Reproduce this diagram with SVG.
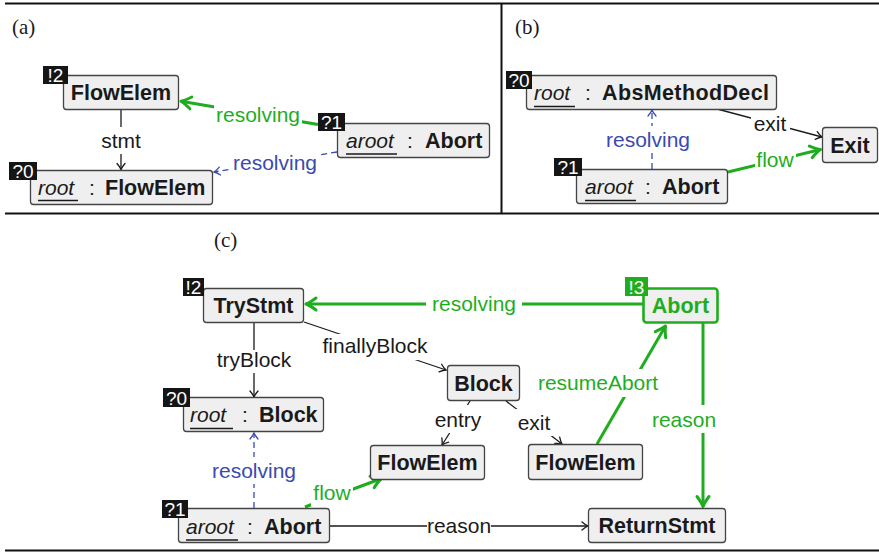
<svg xmlns="http://www.w3.org/2000/svg" width="879" height="553" viewBox="0 0 879 553">
<style>
text { font-family: "Liberation Sans", Arial, sans-serif; font-size: 21px; fill: #1a1a1a; }
.cap { font-family: "Liberation Serif", "Times New Roman", serif; font-size: 21px; }
.b { font-weight: bold; font-size: 21.5px; }
.it { font-style: italic; }
.m { text-anchor: middle; }
.box { fill: #efefef; stroke: #444; stroke-width: 1.3; }
.gbox { fill: #efefef; stroke: #1fad1f; stroke-width: 2.6; }
.badge { fill: #151515; }
.gbadge { fill: #1fad1f; }
.bt { fill: #fff; font-size: 19px; text-anchor: middle; }
.ul { stroke: #1a1a1a; stroke-width: 1.6; }
.frame { stroke: #111; stroke-width: 2; }
.k { stroke: #1a1a1a; stroke-width: 1.3; fill: none; }
.g { stroke: #1fad1f; stroke-width: 3; fill: none; }
.bl { stroke: #3a4ab0; stroke-width: 1.3; fill: none; stroke-dasharray: 6 4; }
.lb { fill: #fff; }
.gt { fill: #1fad1f; }
.btx { fill: #3a4ab0; }
</style>
<defs>
<marker id="ka" markerUnits="userSpaceOnUse" markerWidth="16" markerHeight="16" viewBox="-10 -8 12 16" refX="0" refY="0" orient="auto" overflow="visible">
<path d="M-6,-4 Q-2.5,-1 0,0 Q-2.5,1 -6,4" fill="none" stroke="#1a1a1a" stroke-width="1.3" stroke-linecap="round"/>
</marker>
<marker id="ba" markerUnits="userSpaceOnUse" markerWidth="16" markerHeight="16" viewBox="-10 -8 12 16" refX="0" refY="0" orient="auto" overflow="visible">
<path d="M-6,-4 Q-2.5,-1 0,0 Q-2.5,1 -6,4" fill="none" stroke="#3a4ab0" stroke-width="1.3" stroke-linecap="round"/>
</marker>
<marker id="ga" markerUnits="userSpaceOnUse" markerWidth="20" markerHeight="20" viewBox="-14 -10 16 20" refX="0" refY="0" orient="auto" overflow="visible">
<path d="M-10,-6 Q-4,-1.5 0,0 Q-4,1.5 -10,6" fill="none" stroke="#1fad1f" stroke-width="3" stroke-linecap="round" stroke-linejoin="round"/>
</marker>
</defs>
<rect x="0" y="0" width="879" height="553" fill="#fff"/>

<g id="frame">
<line class="frame" x1="5" y1="3.5" x2="879" y2="3.5"/>
<line class="frame" x1="501.5" y1="3.5" x2="501.5" y2="213.5"/>
<line class="frame" x1="5" y1="213.5" x2="879" y2="213.5"/>
<line class="frame" x1="5" y1="550.5" x2="879" y2="550.5"/>
<text class="cap" x="12" y="34">(a)</text>
<text class="cap" x="515" y="34">(b)</text>
<text class="cap" x="214" y="247">(c)</text>
</g>

<g id="connectors">
<!-- (a) -->
<line class="k" x1="121" y1="109.5" x2="121" y2="169.5" marker-end="url(#ka)"/>
<rect class="lb" x="99" y="127" width="44" height="27"/>
<text class="m" x="121" y="148">stmt</text>
<line class="g" x1="318" y1="124.5" x2="181" y2="101.2" marker-end="url(#ga)"/>
<rect class="lb" x="214" y="102" width="88" height="27"/>
<text class="m gt" x="258" y="122">resolving</text>
<line class="bl" x1="337" y1="152" x2="214" y2="172" marker-end="url(#ba)"/>
<rect class="lb" x="231" y="150" width="90" height="27"/>
<text class="m btx" x="275" y="170">resolving</text>
<!-- (b) -->
<line class="k" x1="719" y1="109.5" x2="822" y2="137" marker-end="url(#ka)"/>
<rect class="lb" x="751" y="111" width="39" height="26"/>
<text class="m" x="770" y="131">exit</text>
<line class="g" x1="728" y1="172" x2="820.5" y2="149.5" marker-end="url(#ga)"/>
<rect class="lb" x="755" y="147" width="41" height="26"/>
<text class="m gt" x="775" y="167">flow</text>
<line class="bl" x1="652" y1="169" x2="652" y2="110" marker-end="url(#ba)"/>
<rect class="lb" x="604" y="126" width="88" height="26"/>
<text class="m btx" x="648" y="147">resolving</text>
<!-- (c) -->
<line class="g" x1="643" y1="304" x2="306" y2="304" marker-end="url(#ga)"/>
<rect class="lb" x="426" y="290" width="96" height="27"/>
<text class="m gt" x="474" y="311">resolving</text>
<line class="k" x1="254" y1="322.5" x2="254" y2="397" marker-end="url(#ka)"/>
<rect class="lb" x="210" y="350" width="88" height="23"/>
<text class="m" x="254" y="367">tryBlock</text>
<line class="k" x1="304" y1="322" x2="446" y2="370" marker-end="url(#ka)"/>
<rect class="lb" x="316" y="334" width="118" height="26"/>
<text class="m" x="375" y="353">finallyBlock</text>
<line class="k" x1="470" y1="401" x2="442" y2="445" marker-end="url(#ka)"/>
<rect class="lb" x="433" y="405" width="52" height="28"/>
<text class="m" x="458" y="427">entry</text>
<line class="k" x1="506" y1="401" x2="562" y2="444" marker-end="url(#ka)"/>
<rect class="lb" x="514" y="409" width="40" height="27"/>
<text class="m" x="534" y="430">exit</text>
<line class="g" x1="597" y1="444" x2="665.5" y2="326" marker-end="url(#ga)"/>
<rect class="lb" x="535" y="369" width="126" height="28"/>
<text class="m gt" x="598" y="390">resumeAbort</text>
<line class="g" x1="703" y1="323" x2="703" y2="506.5" marker-end="url(#ga)"/>
<rect class="lb" x="652" y="405" width="64" height="28"/>
<text class="m gt" x="684" y="427">reason</text>
<line class="k" x1="330" y1="526" x2="588" y2="526" marker-end="url(#ka)"/>
<rect class="lb" x="427" y="512" width="64" height="27"/>
<text class="m" x="459" y="533">reason</text>
<line class="g" x1="305" y1="507" x2="381.5" y2="478.5" marker-end="url(#ga)"/>
<rect class="lb" x="311" y="479" width="42" height="27"/>
<text class="m gt" x="332" y="500">flow</text>
<line class="bl" x1="254" y1="508" x2="254" y2="433" marker-end="url(#ba)"/>
<rect class="lb" x="210" y="457" width="88" height="27"/>
<text class="m btx" x="254" y="478">resolving</text>
</g>

<!-- (a) nodes -->
<g id="a-flowelem-2">
<rect class="box" x="63.5" y="75.5" width="115" height="34" rx="3"/>
<text class="b m" x="121" y="100">FlowElem</text>
<rect class="badge" x="43" y="66" width="25" height="18"/>
<text class="bt" x="55.5" y="82">!2</text>
</g>
<g id="a-root-flowelem">
<rect class="box" x="30.5" y="170.5" width="182" height="34" rx="3"/>
<text class="it" x="38" y="195">root</text>
<line class="ul" x1="38" y1="200.5" x2="78" y2="200.5"/>
<text class="m" x="92" y="195">:</text>
<text class="b" x="105" y="195">FlowElem</text>
<rect class="badge" x="9" y="162" width="28" height="18"/>
<text class="bt" x="23" y="178">?0</text>
</g>
<g id="a-aroot-abort">
<rect class="box" x="337.5" y="123.5" width="152" height="34" rx="3"/>
<text class="it" x="346" y="148">aroot</text>
<line class="ul" x1="346" y1="154" x2="397" y2="154"/>
<text class="m" x="410" y="148">:</text>
<text class="b" x="425" y="148">Abort</text>
<rect class="badge" x="318" y="113" width="27" height="18"/>
<text class="bt" x="331.5" y="129">?1</text>
</g>

<!-- (b) nodes -->
<g id="b-root-absmethoddecl">
<rect class="box" x="526.5" y="75.5" width="250" height="34" rx="3"/>
<text class="it" x="534" y="100">root</text>
<line class="ul" x1="534" y1="106.5" x2="575" y2="106.5"/>
<text class="m" x="588" y="100">:</text>
<text class="b" x="602" y="100" textLength="167">AbsMethodDecl</text>
<rect class="badge" x="506" y="71" width="26" height="18"/>
<text class="bt" x="519" y="87">?0</text>
</g>
<g id="b-exit">
<rect class="box" x="822.5" y="127.5" width="55" height="35" rx="3"/>
<text class="b m" x="850" y="153">Exit</text>
</g>
<g id="b-aroot-abort">
<rect class="box" x="576.5" y="169.5" width="151" height="34" rx="3"/>
<text class="it" x="585" y="194">aroot</text>
<line class="ul" x1="585" y1="200.5" x2="636" y2="200.5"/>
<text class="m" x="648" y="194">:</text>
<text class="b" x="662" y="194">Abort</text>
<rect class="badge" x="554" y="158" width="28" height="18"/>
<text class="bt" x="568" y="174">?1</text>
</g>

<!-- (c) nodes -->
<g id="c-trystmt">
<rect class="box" x="203.5" y="288.5" width="100" height="34" rx="3"/>
<text class="b m" x="253.5" y="313">TryStmt</text>
<rect class="badge" x="183" y="278" width="21" height="18"/>
<text class="bt" x="193.5" y="294">!2</text>
</g>
<g id="c-root-block">
<rect class="box" x="183.5" y="397.5" width="140" height="34" rx="3"/>
<text class="it" x="190" y="422">root</text>
<line class="ul" x1="190" y1="428.5" x2="233" y2="428.5"/>
<text class="m" x="245" y="422">:</text>
<text class="b" x="259" y="422">Block</text>
<rect class="badge" x="163" y="388" width="27" height="19"/>
<text class="bt" x="176.5" y="404.5">?0</text>
</g>
<g id="c-block">
<rect class="box" x="447.5" y="365.5" width="72" height="35" rx="3"/>
<text class="b m" x="483.5" y="391">Block</text>
</g>
<g id="c-flowelem-entry">
<rect class="box" x="370.5" y="445.5" width="114" height="34" rx="3"/>
<text class="b m" x="427.5" y="470">FlowElem</text>
</g>
<g id="c-flowelem-exit">
<rect class="box" x="528.5" y="444.5" width="114" height="35" rx="3"/>
<text class="b m" x="585.5" y="470">FlowElem</text>
</g>
<g id="c-abort">
<rect class="gbox" x="643.5" y="288.5" width="74" height="34" rx="3"/>
<text class="b m gt" x="680.5" y="313">Abort</text>
<rect class="gbadge" x="625" y="277" width="23" height="19"/>
<text class="bt" x="636.5" y="293.5">!3</text>
</g>
<g id="c-returnstmt">
<rect class="box" x="588.5" y="508.5" width="137" height="34" rx="3"/>
<text class="b m" x="657" y="533">ReturnStmt</text>
</g>
<g id="c-aroot-abort">
<rect class="box" x="178.5" y="508.5" width="151" height="34" rx="3"/>
<text class="it" x="186" y="534">aroot</text>
<line class="ul" x1="186" y1="540" x2="238" y2="540"/>
<text class="m" x="250" y="534">:</text>
<text class="b" x="264" y="534">Abort</text>
<rect class="badge" x="162" y="500" width="26" height="18"/>
<text class="bt" x="175" y="516">?1</text>
</g>
</svg>
